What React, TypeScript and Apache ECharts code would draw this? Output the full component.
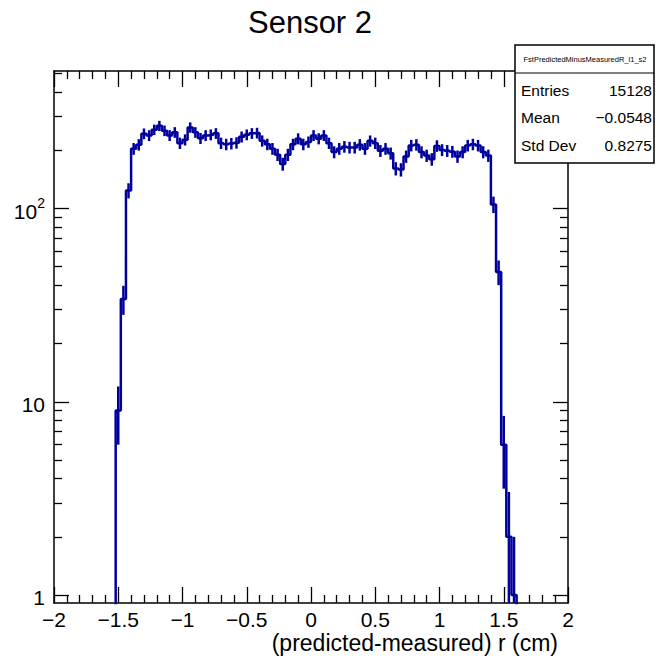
import React, { useEffect, useRef } from 'react';
import * as echarts from 'echarts';

// ---- data ----
const titleText = 'Sensor 2';
const xAxisTitle = '(predicted-measured) r (cm)';
const histName = 'FstPredictedMinusMeasuredR_l1_s2';
const xMin = -2;
const xMax = 2;
// 100 bins of width 0.04 from -2 to 2
const binCounts: number[] = [
  0, 0, 0, 0, 0, 0, 0, 0, 0, 0, 0, 0,
  9, 34, 124,
  204, 214, 244, 239, 256, 268, 253, 239, 248, 218, 227, 263, 248, 231, 239, 241, 245, 218,
  215, 217, 219, 235, 241, 245, 246, 224, 215, 204, 190, 170, 190, 215, 230, 215, 221, 239,
  230, 239, 218, 196, 204, 209, 207, 207, 214, 204, 224, 218, 199, 204, 193, 161, 159, 186,
  212, 214, 196, 188, 180, 211, 201, 199, 197, 186, 196, 212, 215, 212, 196, 188,
  105, 47, 6, 2, 1,
  0, 0, 0, 0, 0, 0, 0, 0, 0, 0,
];
const yMin = 0.909;
const yMax = 515;
const yMajorTicks = [1, 10, 100];
const yMinorTicks = [2, 3, 4, 5, 6, 7, 8, 9, 20, 30, 40, 50, 60, 70, 80, 90, 200, 300, 400, 500];
const statsLabels = ['Entries', 'Mean', 'Std Dev'];
const statsValues = ['15128', '\u22120.0548', '0.8275'];

const FONT = "'Liberation Sans', Arial, Helvetica, sans-serif";
const LINE_COLOR = '#00009c';
const FLOOR = 0.5;

function buildOption() {
  const binWidth = (xMax - xMin) / binCounts.length;
  const stepData: number[][] = binCounts.map((c, k) => [xMin + k * binWidth, c > 0 ? c : FLOOR]);
  stepData.push([xMax, FLOOR]);
  const errData: number[][] = [];
  binCounts.forEach((c, k) => {
    if (c > 0) {
      const e = Math.sqrt(c);
      errData.push([xMin + (k + 0.5) * binWidth, c, Math.max(c - e, FLOOR), c + e]);
    }
  });

  const axisLineStyle = { color: '#000', width: 1.5 };
  const xCommon: any = {
    type: 'value',
    min: xMin,
    max: xMax,
    interval: 0.5,
    axisLine: { show: true, onZero: false, lineStyle: axisLineStyle },
    axisTick: { show: true, inside: true, length: 16, lineStyle: { color: '#000', width: 1.3 } },
    minorTick: { show: true, splitNumber: 5, length: 8, lineStyle: { color: '#000', width: 1.3 } },
    splitLine: { show: false },
    minorSplitLine: { show: false },
  };

  const logMin = Math.log10(yMin);
  const logMax = Math.log10(yMax);
  const yAux = (position: string, ticks: number[], len: number, withLabels: boolean, withLine: boolean): any => ({
    type: 'value',
    position,
    min: logMin,
    max: logMax,
    axisLine: { show: withLine, onZero: false, lineStyle: axisLineStyle },
    axisTick: {
      show: true,
      inside: true,
      length: len,
      customValues: ticks.map((t) => Math.log10(t)),
      lineStyle: { color: '#000', width: 1.3 },
    },
    axisLabel: withLabels
      ? {
          show: true,
          customValues: yMajorTicks.map((t) => Math.log10(t)),
          margin: 9,
          color: '#000',
          fontFamily: FONT,
          fontSize: 21,
          formatter: (v: number) => {
            const e = Math.round(v);
            if (e === 0) return '{b|1}';
            if (e === 1) return '{b|10}';
            return '{b|10}{s|' + e + '}';
          },
          rich: {
            b: { fontSize: 21, fontFamily: FONT, color: '#000', lineHeight: 26, verticalAlign: 'bottom' },
            s: { fontSize: 14, fontFamily: FONT, color: '#000', lineHeight: 26, verticalAlign: 'top' },
          },
        }
      : { show: false },
    splitLine: { show: false },
  });

  return {
    animation: false,
    title: {
      text: titleText,
      left: 310,
      top: 7,
      padding: 0,
      textAlign: 'center',
      textStyle: { fontFamily: FONT, fontSize: 31, fontWeight: 'normal', color: '#000' },
    },
    grid: { left: 54, right: 88, top: 71, bottom: 55, containLabel: false, outerBoundsMode: 'none' },
    xAxis: [
      {
        ...xCommon,
        position: 'bottom',
        axisLabel: {
          show: true,
          showMinLabel: true,
          showMaxLabel: true,
          margin: 6,
          color: '#000',
          fontFamily: FONT,
          fontSize: 21,
          formatter: (v: number) => (v < 0 ? '\u2212' + Math.abs(v) : String(v)),
        },
      },
      { ...xCommon, position: 'top', axisLabel: { show: false } },
    ],
    yAxis: [
      {
        type: 'log',
        logBase: 10,
        min: yMin,
        max: yMax,
        position: 'left',
        axisLine: { show: false },
        axisTick: { show: false },
        axisLabel: { show: false },
        splitLine: { show: false },
        minorTick: { show: false },
      },
      yAux('left', yMajorTicks, 15, true, true),
      yAux('left', yMinorTicks, 8, false, false),
      yAux('right', yMajorTicks, 15, false, true),
      yAux('right', yMinorTicks, 8, false, false),
    ],
    series: [
      {
        type: 'line',
        name: 'hist',
        xAxisIndex: 0,
        yAxisIndex: 0,
        data: stepData,
        step: 'end',
        showSymbol: false,
        symbol: 'none',
        clip: true,
        lineStyle: { color: LINE_COLOR, width: 2.5 },
        z: 3,
      },
      {
        type: 'custom',
        name: 'errors',
        xAxisIndex: 0,
        yAxisIndex: 0,
        data: errData,
        dimensions: ['x', 'y', 'lo', 'hi'],
        encode: { x: 0, y: 1 },
        z: 3,
        renderItem: (params: any, api: any) => {
          const x = api.value(0);
          const p1 = api.coord([x, api.value(2)]);
          const p2 = api.coord([x, api.value(3)]);
          const cs = params.coordSys;
          const bottom = cs.y + cs.height;
          const top = cs.y;
          const y1 = Math.max(Math.min(p1[1], bottom), top);
          const y2 = Math.max(Math.min(p2[1], bottom), top);
          return {
            type: 'line',
            shape: { x1: p1[0], y1, x2: p2[0], y2 },
            style: { stroke: LINE_COLOR, lineWidth: 2.5 },
          };
        },
      },
    ],
    graphic: [
      {
        type: 'text',
        z: 100,
        style: {
          text: xAxisTitle,
          x: 558,
          y: 643,
          align: 'right',
          verticalAlign: 'middle',
          fontFamily: FONT,
          fontSize: 23,
          fill: '#000',
        },
      },
      {
        type: 'group',
        z: 100,
        children: [
          {
            type: 'rect',
            z: 100,
            shape: { x: 515, y: 45, width: 139, height: 118 },
            style: { fill: '#fff', stroke: '#000', lineWidth: 1.5 },
          },
          {
            type: 'line',
            z: 101,
            shape: { x1: 515, y1: 73, x2: 654, y2: 73 },
            style: { stroke: '#000', lineWidth: 1.2 },
          },
          {
            type: 'text',
            z: 101,
            style: {
              text: histName,
              x: 585,
              y: 59,
              align: 'center',
              verticalAlign: 'middle',
              fontFamily: FONT,
              fontSize: 7.5,
              fill: '#000',
            },
          },
          ...statsLabels.map((t, i) => ({
            type: 'text',
            z: 101,
            style: {
              text: t,
              x: 521,
              y: 90 + i * 27.5,
              align: 'left',
              verticalAlign: 'middle',
              fontFamily: FONT,
              fontSize: 15.5,
              fill: '#000',
            },
          })),
          ...statsValues.map((t, i) => ({
            type: 'text',
            z: 101,
            style: {
              text: t,
              x: 652,
              y: 90 + i * 27.5,
              align: 'right',
              verticalAlign: 'middle',
              fontFamily: FONT,
              fontSize: 15.5,
              fill: '#000',
            },
          })),
        ],
      },
    ],
  };
}

export default function App() {
  const ref = useRef<HTMLDivElement>(null);
  useEffect(() => {
    if (!ref.current) return;
    const chart = echarts.init(ref.current, null, { renderer: 'svg' });
    chart.setOption(buildOption() as any);
    return () => {
      chart.dispose();
    };
  }, []);
  return (
    <div
      ref={ref}
      style={{ position: 'fixed', left: 0, top: 0, width: 656, height: 658, background: '#fff' }}
    />
  );
}
